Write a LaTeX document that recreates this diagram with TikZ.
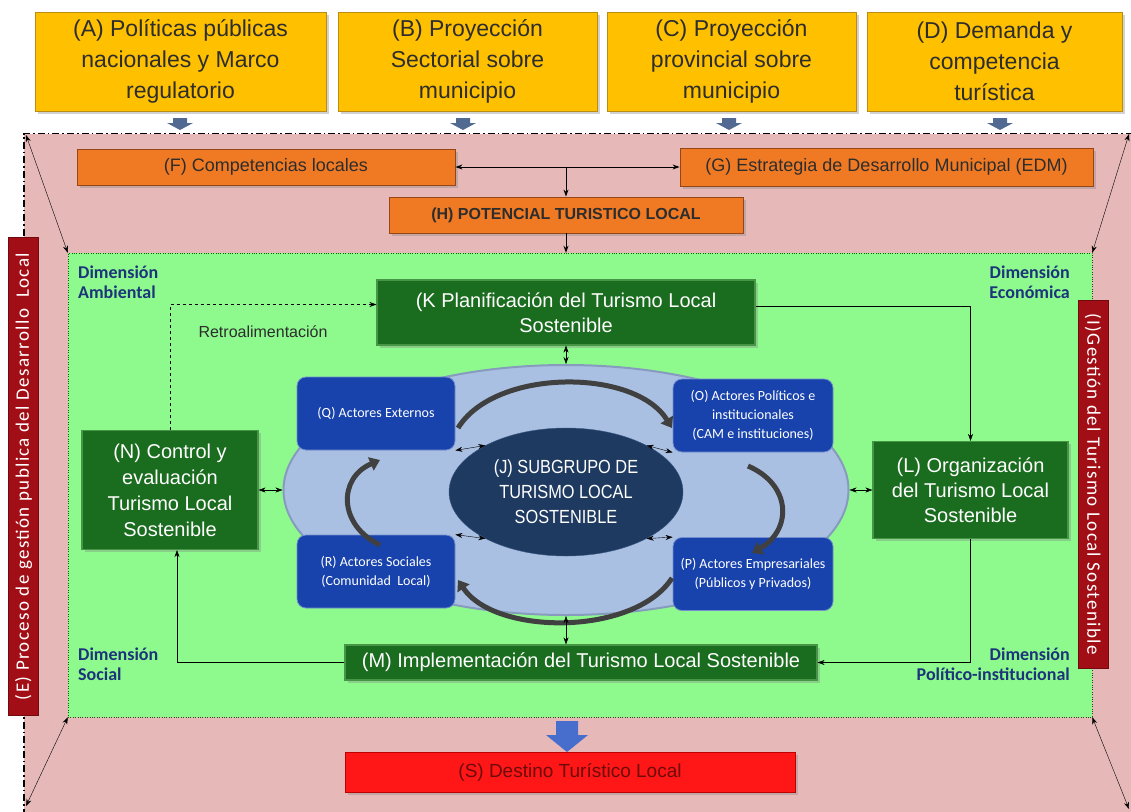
\documentclass[tikz,border=0pt]{standalone}
\usepackage{fontspec}
\setmainfont{Liberation Sans}
\newfontfamily\calibri{Carlito}
\newfontfamily\calibriesp[LetterSpace=7]{Carlito}
\newfontfamily\angosta[FakeStretch=0.86]{Liberation Sans}
\usetikzlibrary{arrows.meta,shapes.geometric,shadows}

\definecolor{amarillo}{RGB}{255,192,0}
\definecolor{bordeamarillo}{RGB}{185,140,20}
\definecolor{textogris}{RGB}{45,45,45}
\definecolor{rosa}{RGB}{230,185,184}
\definecolor{verdeclaro}{RGB}{142,250,142}
\definecolor{naranja}{RGB}{240,122,36}
\definecolor{bordenaranja}{RGB}{150,70,20}
\definecolor{verdeoscuro}{RGB}{26,108,30}
\definecolor{bordeverde}{RGB}{70,150,70}
\definecolor{azulactor}{RGB}{24,66,172}
\definecolor{azulclaro}{RGB}{170,192,226}
\definecolor{azulnoche}{RGB}{30,58,96}
\definecolor{granate}{RGB}{162,14,22}
\definecolor{rojo}{RGB}{255,22,22}
\definecolor{rojooscuro}{RGB}{110,10,10}
\definecolor{azuldim}{RGB}{28,52,122}
\definecolor{azulflecha}{RGB}{72,110,205}
\definecolor{grisflecha}{RGB}{82,106,146}
\definecolor{grisoscuro}{RGB}{64,64,64}

\begin{document}
\begin{tikzpicture}[x=1pt,y=-1pt,>={Stealth[length=7pt,width=5pt]}]
\tikzset{caja/.style={draw=bordeamarillo, fill=amarillo, line width=0.8pt, minimum height=99pt, inner sep=0pt, align=center, text=textogris, font=\fontsize{23}{31}\selectfont, drop shadow={opacity=0.35, shadow xshift=2.5pt, shadow yshift=-2.5pt}}}
\tikzset{cajanaranja/.style={draw=bordenaranja, fill=naranja, line width=0.8pt, inner sep=0pt, align=center, text=textogris, font=\fontsize{18}{21}\selectfont, drop shadow={opacity=0.35, shadow xshift=2.5pt, shadow yshift=-2.5pt}}}
\tikzset{cajaverde/.style={draw=bordeverde, fill=verdeoscuro, line width=1.2pt, inner sep=0pt, align=center, text=white, font=\fontsize{20}{25}\selectfont, drop shadow={opacity=0.35, shadow xshift=2.5pt, shadow yshift=-2.5pt}}}
\tikzset{actor/.style={draw=azulactor!60!white, fill=azulactor, rounded corners=9pt, line width=0.8pt, inner sep=0pt, align=center, text=white, font=\calibri\fontsize{14}{19}\selectfont, minimum width=158pt, minimum height=73pt}}
\tikzset{barra/.style={draw=granate!70!black, fill=granate, inner sep=0pt, text=white, font=\calibriesp\fontsize{19}{21}\selectfont, minimum height=30pt}}
\tikzset{dimension/.style={inner sep=0pt, text=azuldim, font=\calibri\bfseries\fontsize{18}{20}\selectfont}}
\tikzset{curva/.style={draw=grisoscuro, line width=5pt, -{Triangle[length=10pt,width=14pt]}}}
\fill[white] (0,0) rectangle (1131,811);
\clip (0,0) rectangle (1131,811);

% cuadros de entrada
\node[caja, minimum width=291pt] (A) at (180.5,61.5) {(A) Políticas públicas\\nacionales y Marco\\regulatorio};
\node[caja, minimum width=259pt] (B) at (467.5,61.5) {(B) Proyección\\Sectorial sobre\\municipio};
\node[caja, minimum width=249pt] (C) at (731.5,61.5) {(C) Proyección\\provincial sobre\\municipio};
\node[caja, minimum width=255pt] (D) at (994.5,61.5) {(D) Demanda y\\competencia\\turística};
\fill[grisflecha, shift={(180,118)}] (-7,0) -- (7,0) -- (7,5) -- (13,5) -- (0,12) -- (-13,5) -- (-7,5) -- cycle;
\fill[grisflecha, shift={(463,118)}] (-7,0) -- (7,0) -- (7,5) -- (13,5) -- (0,12) -- (-13,5) -- (-7,5) -- cycle;
\fill[grisflecha, shift={(729,118)}] (-7,0) -- (7,0) -- (7,5) -- (13,5) -- (0,12) -- (-13,5) -- (-7,5) -- cycle;
\fill[grisflecha, shift={(1000,118)}] (-7,0) -- (7,0) -- (7,5) -- (13,5) -- (0,12) -- (-13,5) -- (-7,5) -- cycle;

% marco del proceso
\node[draw, fill=rosa, line width=1.6pt, dash pattern=on 7pt off 3pt on 1.5pt off 3pt, minimum width=1125pt, minimum height=700pt, inner sep=0pt] (marco) at (586.5,483.5) {};
\node[draw=green!40!black, dotted, fill=verdeclaro, minimum width=1024pt, minimum height=464pt, inner sep=0pt] (verde) at (580,485) {};
\coordinate (esqsi) at (26,135);
\coordinate (esqii) at (26,806);
\coordinate (esqsd) at (1129,134);
\coordinate (esqid) at (1129,809);
\draw[<->] (esqsi) -- (verde.north west);
\draw[<->] (esqii) -- (verde.south west);
\draw[<->] (esqsd) -- (verde.north east);
\draw[<->] (esqid) -- (verde.south east);
\node[barra, rotate=90, minimum width=478pt] (E) at (23.5,476.5) {(E) Proceso de gestión publica del Desarrollo~ Local};
\node[barra, rotate=-90, minimum width=368pt] (I) at (1093,484) {(I)Gestión del Turismo Local Sostenible};

% nivel local
\node[cajanaranja, minimum width=378pt, minimum height=36pt] (F) at (266,167) {(F) Competencias locales};
\node[cajanaranja, minimum width=413pt, minimum height=38pt] (G) at (886.5,167) {(G) Estrategia de Desarrollo Municipal (EDM)};
\node[cajanaranja, minimum width=354pt, minimum height=36pt, font=\bfseries\fontsize{16}{19}\selectfont] (H) at (566,215) {(H) POTENCIAL TURISTICO LOCAL};
\coordinate (fg) at (566,167);
\draw[<->, line width=1pt] (F.east) -- (G.west);
\draw[->, line width=1pt] (fg) -- (H.north);
\draw[->, line width=1pt] (H.south) -- (H.south |- verde.north);

% dimensiones
\node[dimension, anchor=north west, align=left] (dimamb) at (78,266) {Dimensión\\Ambiental};
\node[dimension, anchor=north east, align=right] (dimeco) at (1070,266) {Dimensión\\Económica};
\node[dimension, anchor=north west, align=left] (dimsoc) at (78,648) {Dimensión\\Social};
\node[dimension, anchor=north east, align=right] (dimpol) at (1070,648) {Dimensión\\Político-institucional};

% ciclo de gestion
\node[cajaverde, minimum width=378pt, minimum height=65pt] (K) at (566,312.5) {(K Planificación del Turismo Local\\Sostenible};
\node[cajaverde, minimum width=195pt, minimum height=97pt] (L) at (970.5,490) {(L) Organización\\del Turismo Local\\Sostenible};
\node[cajaverde, minimum width=472pt, minimum height=35pt] (M) at (581,662.5) {(M) Implementación del Turismo Local Sostenible};
\node[cajaverde, minimum width=176pt, minimum height=119pt, font=\fontsize{20}{26}\selectfont] (N) at (170,490) {(N) Control y\\evaluación\\Turismo Local\\Sostenible};

% subgrupo
\node[ellipse, draw={rgb,255:red,135;green,155;blue,190}, line width=2pt, fill=azulclaro, minimum width=565pt, minimum height=250pt, inner sep=0pt] (grupo) at (566,490) {};
\node[actor] (Q) at (376,413.5) {(Q) Actores Externos};
\node[actor, minimum width=160pt] (O) at (753,415.5) {(O) Actores Políticos e\\institucionales\\(CAM e instituciones)};
\node[actor] (R) at (376,571.5) {(R) Actores Sociales\\(Comunidad~ Local)};
\node[actor, minimum width=160pt] (P) at (753,574) {(P) Actores Empresariales\\(Públicos y Privados)};
\node[ellipse, draw={rgb,255:red,60;green,90;blue,135}, fill=azulnoche, minimum width=234pt, minimum height=128pt, inner sep=0pt, align=center, text=white, font=\angosta\fontsize{19}{25}\selectfont] (J) at (566,492) {(J) SUBGRUPO DE\\TURISMO LOCAL\\SOSTENIBLE};
\draw[curva] (458,428) .. controls (495,368) and (635,368) .. (672,428);
\draw[curva] (748,466) .. controls (792,485) and (792,530) .. (752,553);
\draw[curva] (672,578) .. controls (635,636) and (495,636) .. (458,580);
\draw[curva] (380,545) .. controls (338,525) and (338,478) .. (380,460);
\draw[<->] (Q.south east) -- (J.150);
\draw[<->] (O.south west) -- (J.30);
\draw[<->] (R.north east) -- (J.210);
\draw[<->] (P.north west) -- (J.330);

% conexiones
\draw[<->] (K.south) -- (grupo.north);
\draw[<->] (grupo.south) -- (grupo.south |- M.north);
\draw[<->] (N.east) -- (grupo.west);
\draw[<->] (grupo.east) -- (L.west);
\draw[->] ([yshift=6pt]K.east) -| (L.north);
\draw[->] (L.south) |- (M.east);
\draw[->] (M.west) -| ([xshift=7pt]N.south);
\draw[->, dashed] (N.north) |- ([yshift=8pt]K.west);
\node[text=textogris, font=\fontsize{16}{19}\selectfont] (retro) at (263,332) {Retroalimentación};

% destino
\fill[azulflecha, shift={(567,721)}] (-11,0) -- (11,0) -- (11,14) -- (21,14) -- (0,31) -- (-21,14) -- (-11,14) -- cycle;
\node[draw={rgb,255:red,190;green,0;blue,0}, fill=rojo, minimum width=450pt, minimum height=40pt, inner sep=0pt, text=rojooscuro, font=\fontsize{19}{22}\selectfont, drop shadow={opacity=0.35, shadow xshift=2.5pt, shadow yshift=-2.5pt}] (S) at (570,772) {(S) Destino Turístico Local};
\end{tikzpicture}
\end{document}
